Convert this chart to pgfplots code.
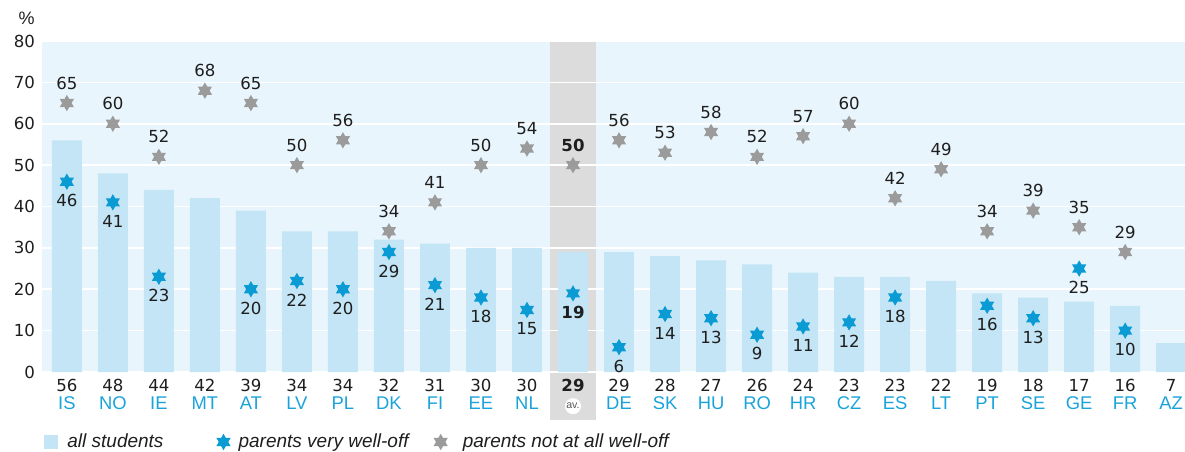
\documentclass[border=0pt]{standalone}
\usepackage{pgfplots}
\pgfplotsset{compat=1.18}
\usepackage{fontspec}
\setmainfont{Liberation Sans}
\newfontfamily\numfont{DejaVu Sans}

\definecolor{bgblue}{HTML}{E9F5FC}
\definecolor{barblue}{HTML}{C4E5F5}
\definecolor{starblue}{HTML}{0A9BD5}
\definecolor{stargray}{HTML}{9B9B9B}
\definecolor{codeblue}{HTML}{1AA3DB}
\definecolor{bandgray}{HTML}{DCDCDC}
\definecolor{txt}{HTML}{1E1E1E}

% six-pointed star
\pgfdeclareplotmark{hexstar}{%
  \pgfpathmoveto{\pgfpointpolar{90}{\pgfplotmarksize}}%
  \pgfpathlineto{\pgfpointpolar{210}{\pgfplotmarksize}}%
  \pgfpathlineto{\pgfpointpolar{330}{\pgfplotmarksize}}%
  \pgfpathclose
  \pgfpathmoveto{\pgfpointpolar{270}{\pgfplotmarksize}}%
  \pgfpathlineto{\pgfpointpolar{390}{\pgfplotmarksize}}%
  \pgfpathlineto{\pgfpointpolar{510}{\pgfplotmarksize}}%
  \pgfpathclose
  \pgfusepathqfill
}

\tikzset{numlabel/.style={text=txt, font=\numfont\fontsize{8.3}{9}\selectfont}}
\pgfplotsset{
  starlegend/.style={legend image code/.code={\draw[##1] plot coordinates {(3.5pt,0pt)};}},
  barlegend/.style={legend image code/.code={\fill[barblue] (0pt,-3.5pt) rectangle (7pt,3.5pt);}},
}

\newcommand{\nf}{\numfont\fontsize{8.3}{9}\selectfont}
\newcommand{\cc}[2]{{\nf #1}\\\textcolor{codeblue}{#2}}
\newcommand{\avdot}{\tikz[baseline={([yshift=-0.2pt]a.base)}]\node[circle,fill=white,inner sep=0pt,
  minimum size=8pt,font=\fontsize{5.3}{5.5}\selectfont,text=black!65](a){av.};}

\begin{document}
\begin{tikzpicture}
\begin{axis}[
  set layers,
  scale only axis, width=571.5pt, height=165.5pt,
  xmin=-0.54, xmax=24.3, ymin=0, ymax=80,
  clip=false,
  axis background/.style={fill=bgblue},
  axis line style={draw=none},
  major tick length=0pt,
  ytick={0,10,...,80},
  ymajorgrids, grid style={white, line width=0.8pt},
  /pgf/number format/assume math mode=true,
  yticklabel style={numlabel},
  xtick={0,...,24},
  xticklabels={\cc{56}{IS},\cc{48}{NO},\cc{44}{IE},\cc{42}{MT},\cc{39}{AT},
    \cc{34}{LV},\cc{34}{PL},\cc{32}{DK},\cc{31}{FI},\cc{30}{EE},\cc{30}{NL},
    {{\nf\bfseries 29}\\\avdot},\cc{29}{DE},\cc{28}{SK},\cc{27}{HU},\cc{26}{RO},
    \cc{24}{HR},\cc{23}{CZ},\cc{23}{ES},\cc{22}{LT},\cc{19}{PT},\cc{18}{SE},
    \cc{17}{GE},\cc{16}{FR},\cc{7}{AZ}},
  xticklabel style={align=center, text=txt, font=\fontsize{9.2}{9}\selectfont},
  bar width=0.65,
  legend columns=3,
  legend style={at={(0,0)}, anchor=west, xshift=1pt, yshift=-35pt,
    draw=none, fill=none, inner sep=0pt, nodes={inner sep=0pt},
    font=\itshape\fontsize{9.5}{10}\selectfont, text=txt},
]
\begin{pgfonlayer}{axis background}
\fill[bandgray] ([yshift=-24pt]axis cs:10.5,0) rectangle (axis cs:11.5,80);
\end{pgfonlayer}

\addplot[ybar, fill=barblue, draw=none, barlegend]
  coordinates {(0,56) (1,48) (2,44) (3,42) (4,39) (5,34) (6,34) (7,32) (8,31)
  (9,30) (10,30) (11,29) (12,29) (13,28) (14,27) (15,26) (16,24) (17,23)
  (18,23) (19,22) (20,19) (21,18) (22,17) (23,16) (24,7)};
\addlegendentry{\makebox[79pt][l]{\hspace{4.5pt}all students}}

\addplot[only marks, mark=hexstar, mark size=4.1pt, color=starblue, starlegend,
  point meta=explicit symbolic, nodes near coords,
  every node near coord/.append style={anchor=center, yshift=-9.5pt, numlabel}]
  coordinates {(0,46)[46] (1,41)[41] (2,23)[23] (4,20)[20] (5,22)[22] (6,20)[20]
  (7,29)[29] (8,21)[21] (9,18)[18] (10,15)[15] (11,19)[\bfseries 19] (12,6)[6]
  (13,14)[14] (14,13)[13] (15,9)[9] (16,11)[11] (17,12)[12] (18,18)[18]
  (20,16)[16] (21,13)[13] (22,25)[25] (23,10)[10]};
\addlegendentry{\makebox[101.5pt][l]{\hspace{4pt}parents very well-off}}

\addplot[only marks, mark=hexstar, mark size=4.1pt, color=stargray, starlegend,
  point meta=explicit symbolic, nodes near coords,
  every node near coord/.append style={anchor=center, yshift=10pt, numlabel}]
  coordinates {(0,65)[65] (1,60)[60] (2,52)[52] (3,68)[68] (4,65)[65] (5,50)[50]
  (6,56)[56] (7,34)[34] (8,41)[41] (9,50)[50] (10,54)[54] (11,50)[\bfseries 50]
  (12,56)[56] (13,53)[53] (14,58)[58] (15,52)[52] (16,57)[57] (17,60)[60]
  (18,42)[42] (19,49)[49] (20,34)[34] (21,39)[39] (22,35)[35] (23,29)[29]};
\addlegendentry{\hspace{7.5pt}parents not at all well-off}

\node[anchor=east, inner sep=0pt, text=txt, font=\fontsize{9}{10}\selectfont]
  at ([shift={(-3.5pt,11.5pt)}]rel axis cs:0,1) {\%};
\end{axis}
\pgfresetboundingbox
\path (current axis.south west) ++(-21pt,-39.5pt) rectangle ++(592.5pt,225.5pt);
\end{tikzpicture}
\end{document}
